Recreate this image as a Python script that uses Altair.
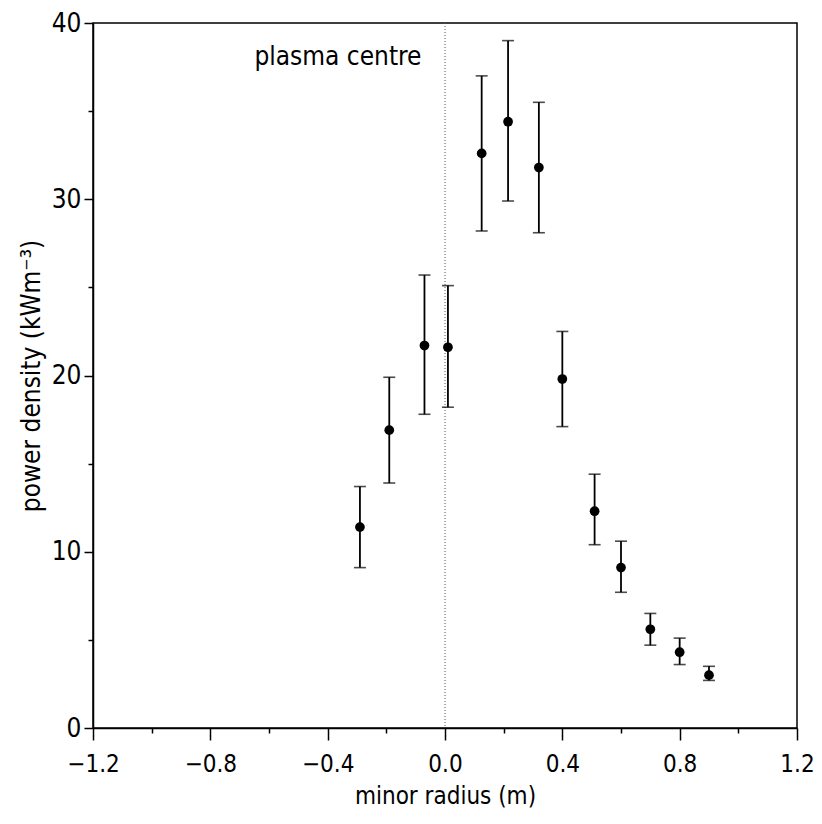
import altair as alt
import pandas as pd

# data
radius = [-0.29, -0.19, -0.07, 0.01, 0.125, 0.215, 0.32, 0.40, 0.51, 0.60, 0.70, 0.80, 0.90]
power = [11.4, 16.9, 21.7, 21.6, 32.6, 34.4, 31.8, 19.8, 12.3, 9.1, 5.6, 4.3, 3.0]
err_hi = [13.7, 19.9, 25.7, 25.1, 37.0, 39.0, 35.5, 22.5, 14.4, 10.6, 6.5, 5.1, 3.5]
err_lo = [9.1, 13.9, 17.8, 18.2, 28.2, 29.9, 28.1, 17.1, 10.4, 7.7, 4.7, 3.6, 2.7]

x_ticks = [-1.2, -1.0, -0.8, -0.6, -0.4, -0.2, 0.0, 0.2, 0.4, 0.6, 0.8, 1.0, 1.2]
y_ticks = [0, 5, 10, 15, 20, 25, 30, 35, 40]

annot_x = [-0.365]
annot_y = [37.6]
annot_text = ["plasma centre"]
centre_x = [0.0]

df = pd.DataFrame({"r": radius, "p": power, "hi": err_hi, "lo": err_lo})
df_annot = pd.DataFrame({"x": annot_x, "y": annot_y, "t": annot_text})
df_centre = pd.DataFrame({"x": centre_x})

FONT = "Liberation Sans Narrow, DejaVu Sans Condensed, Liberation Sans, Arial, sans-serif"

x_axis = alt.Axis(
    values=x_ticks,
    title="minor radius (m)",
    labelExpr="round(datum.value*10) % 4 === 0 ? format(datum.value, '.1f') : ''",
    tickSize={"condition": {"test": "round(datum.value*10) % 4 === 0", "value": 12}, "value": 5},
    grid=False,
    domainColor="black",
    tickColor="black",
    tickWidth=1.5,
    domainWidth=1.5,
    labelFont=FONT,
    labelFontSize=24,
    labelColor="black",
    labelPadding=12,
    titleFont=FONT,
    titleFontSize=24,
    titleFontWeight="normal",
    titleColor="black",
    titlePadding=8,
    labelFlush=False,
    labelOverlap=False,
)

y_axis = alt.Axis(
    values=y_ticks,
    title="power density (kWm⁻³)",
    labelExpr="datum.value % 10 === 0 ? format(datum.value, 'd') : ''",
    tickSize={"condition": {"test": "datum.value % 10 === 0", "value": 9}, "value": 5},
    grid=False,
    domainColor="black",
    tickColor="black",
    tickWidth=1.5,
    domainWidth=1.5,
    labelFont=FONT,
    labelFontSize=26,
    labelColor="black",
    labelPadding=3,
    titleFont=FONT,
    titleFontSize=26,
    titleFontWeight="normal",
    titleColor="black",
    titlePadding=7,
    labelFlush=False,
    labelOverlap=False,
)

xs = alt.Scale(domain=[-1.2, 1.2], nice=False, zero=False)
ys = alt.Scale(domain=[0, 40], nice=False, zero=False)

base = alt.Chart(df)

centre = alt.Chart(df_centre).mark_rule(
    color="#555555", strokeWidth=1, strokeDash=[1, 2]
).encode(x=alt.X("x:Q", scale=xs, axis=x_axis))

bars = base.mark_rule(color="black", strokeWidth=1.8).encode(
    x=alt.X("r:Q", scale=xs, axis=x_axis),
    y=alt.Y("lo:Q", scale=ys, axis=y_axis),
    y2="hi:Q",
)

cap_hi = base.mark_tick(color="black", orient="horizontal", size=12, thickness=1.6).encode(
    x=alt.X("r:Q", scale=xs), y=alt.Y("hi:Q", scale=ys)
)
cap_lo = base.mark_tick(color="black", orient="horizontal", size=12, thickness=1.6).encode(
    x=alt.X("r:Q", scale=xs), y=alt.Y("lo:Q", scale=ys)
)

pts = base.mark_circle(color="black", size=95, opacity=1).encode(
    x=alt.X("r:Q", scale=xs), y=alt.Y("p:Q", scale=ys)
)

annot = alt.Chart(df_annot).mark_text(
    font=FONT, fontSize=26, color="black", align="center", baseline="alphabetic"
).encode(x=alt.X("x:Q", scale=xs), y=alt.Y("y:Q", scale=ys), text="t:N")

chart = alt.layer(centre, bars, cap_hi, cap_lo, pts, annot).properties(
    width=704,
    height=705,
    autosize=alt.AutoSizeParams(type="none"),
    padding={"left": 85, "top": 15, "right": 17, "bottom": 88},
    background="white",
).configure_view(stroke="black", strokeWidth=1.5)

chart.save("out.html", embed_options={"renderer": "svg", "actions": False})
